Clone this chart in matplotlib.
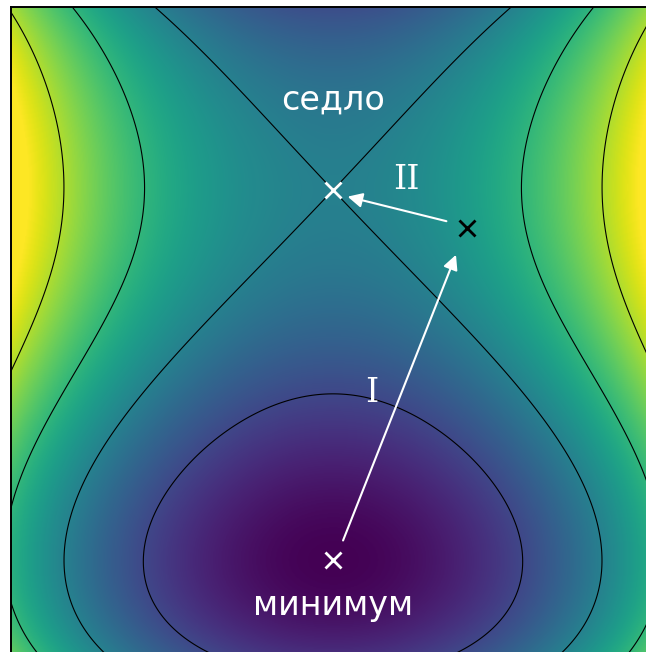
import numpy as np
import matplotlib
matplotlib.use('Agg')
import matplotlib.pyplot as plt

# Model potential surface: V(x, y) = g(y) + a(y) x^2 + b(y) x^4
# g(y) = y^2 exp(1 - y^2) + y^2 (1 - y)^2 (c1 + c2 y)
a_coef = [1.402, 0.150, -0.034]      # a(y) = a0 + a1 y + a2 y^2
b_coef = [0.051, -0.201, 0.070]      # b(y) = b0 + b1 y + b2 y^2
g_coef = [1.087, -0.868]             # c1, c2
level_step = 0.509
level_index = [-1, 0, 1, 2]          # contour levels: saddle value 1 + k * step
color_range = (0.0, 2.3)

x_range = (-1.0, 1.0)
y_range = (-0.270, 1.496)

minimum_xy = (0.0, 0.0)
saddle_xy = (0.0, 1.0)
step_xy = (0.4155, 0.897)
arrow_I = [(0.028, 0.046), (0.3845, 0.832)]
arrow_II = [(0.36, 0.914), (0.037, 0.984)]

labels = ['седло', 'минимум', 'I', 'II']
label_xy = [(0.0, 1.243), (0.0, -0.122), (0.121, 0.451), (0.229, 1.027)]


def potential(x, y):
    q = y**2 * (1 - y)**2
    g = y**2 * np.exp(1 - y**2) + q * (g_coef[0] + g_coef[1] * y)
    a = a_coef[0] + a_coef[1] * y + a_coef[2] * y**2
    b = b_coef[0] + b_coef[1] * y + b_coef[2] * y**2
    return g + a * x**2 + b * x**4


W, H = 646, 652
fig = plt.figure(figsize=(W / 100, H / 100), dpi=100)
top_px, bot_px = 6.5, 660
ax = fig.add_axes([10.5 / W, (H - bot_px) / H, 645 / W, (bot_px - top_px) / H])

X, Y = np.meshgrid(np.linspace(*x_range, 600), np.linspace(*y_range, 600))
Z = potential(X, Y)
ax.imshow(Z, extent=(*x_range, *y_range), origin='lower', cmap='viridis',
          vmin=color_range[0], vmax=color_range[1],
          aspect='auto', interpolation='bilinear')
levels = [1 + k * level_step for k in level_index]
ax.contour(X, Y, Z, levels=levels, colors='k', linewidths=0.8)

ax.set_xlim(x_range)
ax.set_ylim(y_range)
ax.set_xticks([])
ax.set_yticks([])
for s in ax.spines.values():
    s.set_linewidth(1.4)

ax.plot([minimum_xy[0], saddle_xy[0]], [minimum_xy[1], saddle_xy[1]], 'x',
        color='w', ms=11, mew=2)
ax.plot([step_xy[0]], [step_xy[1]], 'x', color='k', ms=11, mew=2)
for start, end in (arrow_I, arrow_II):
    ax.annotate('', xy=end, xytext=start,
                arrowprops=dict(arrowstyle='-|>', color='w', lw=1.5, mutation_scale=22))

for text, (tx, ty) in zip(labels, label_xy):
    fam = 'DejaVu Serif' if set(text) <= {'I'} else 'DejaVu Sans'
    ax.text(tx, ty, text, color='w', fontsize=24, ha='center', va='center', family=fam)

fig.savefig('out.png', dpi=100)
